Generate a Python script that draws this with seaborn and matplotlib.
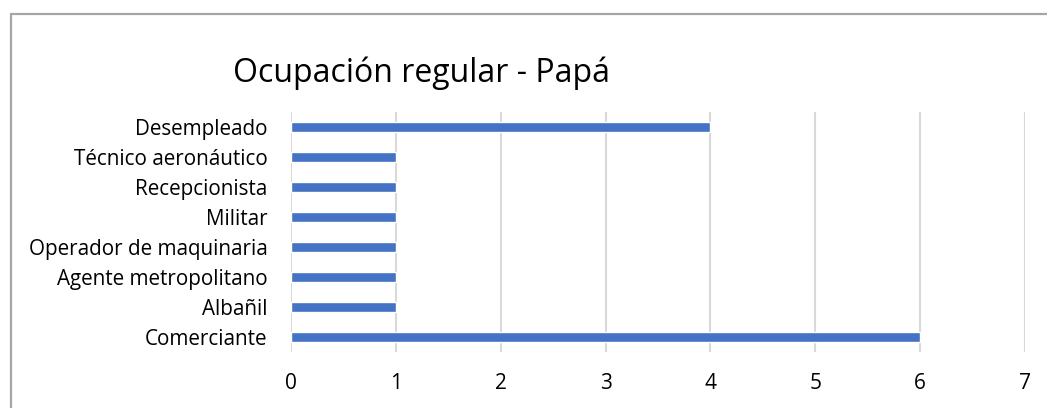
import matplotlib
matplotlib.use("Agg")
import matplotlib.pyplot as plt
from matplotlib.lines import Line2D
import seaborn as sns
import pandas as pd

categories = ["Desempleado", "Técnico aeronáutico", "Recepcionista", "Militar",
              "Operador de maquinaria", "Agente metropolitano", "Albañil", "Comerciante"]
values = [4, 1, 1, 1, 1, 1, 1, 6]
x_ticks = [0, 1, 2, 3, 4, 5, 6, 7]
title = "Ocupación regular - Papá"

sns.set_theme(style="white")
plt.rcParams['font.family'] = ['Open Sans', 'DejaVu Sans']

df = pd.DataFrame({"cat": categories, "val": values})

W, H = 1047, 408
fig = plt.figure(figsize=(W / 100, H / 100), dpi=100)
ax = fig.add_axes([291 / W, 1 - 352 / H, (1025 - 291) / W, (352 - 112) / H])

sns.barplot(data=df, x="val", y="cat", order=categories, color="#4472C4",
            saturation=1, width=0.34, ax=ax)

ax.set_xlim(0, 7)
ax.set_xticks(x_ticks)
ax.set_xticklabels([str(t) for t in x_ticks], fontsize=15, color="#000000")
ax.tick_params(axis="y", labelsize=14.9, labelcolor="#000000", length=0, pad=17)
ax.tick_params(axis="x", length=0, pad=15)
ax.set_xlabel("")
ax.set_ylabel("")
ax.grid(axis="x", color="#d9d9d9", linewidth=1.5)
ax.set_axisbelow(True)
for s in ax.spines.values():
    s.set_visible(False)

fig.text(233 / W, 1 - 82 / H, title, ha="left", va="baseline", fontsize=23, color="#000000")

border_color = "#a6a6a6"
fig.add_artist(Line2D([11 / W, 1.0], [1 - 14 / H, 1 - 14 / H], transform=fig.transFigure,
                      color=border_color, linewidth=1.6))
fig.add_artist(Line2D([11 / W, 11 / W], [0, 1 - 14 / H], transform=fig.transFigure,
                      color=border_color, linewidth=1.6))

fig.savefig("out.png", dpi=100, facecolor="white")
